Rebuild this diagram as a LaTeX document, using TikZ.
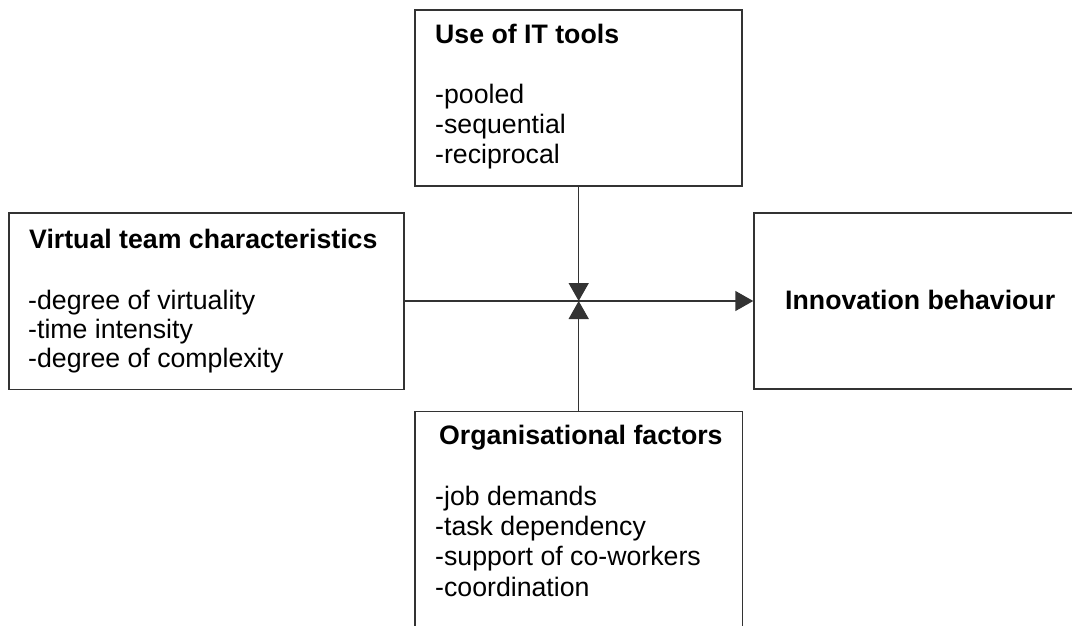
\documentclass[tikz,border=0pt]{standalone}
\usepackage{fontspec}
\setmainfont{Liberation Sans}
\usetikzlibrary{arrows.meta}
\begin{document}
\begin{tikzpicture}[x=1pt,y=-1pt,
  box/.style={draw=black!80, line width=1.5pt, rectangle, inner sep=0pt},
  txt/.style={anchor=base west, inner sep=0pt, font=\fontsize{26.7}{29}\selectfont},
  ttl/.style={txt, font=\fontsize{26.7}{29}\selectfont\bfseries},
  conn/.style={draw=black!80, line width=1.5pt},
  arr/.style={conn, -{Triangle[length=18pt,width=20pt]}}]
\useasboundingbox (0,0) rectangle (1072,626);
\fill[white] (0,0) rectangle (1072,626);
\clip (0,0) rectangle (1072,626);
% boxes
\node[box, minimum width=327pt, minimum height=176pt] (top) at (578.7,98) {};
\node[box, minimum width=395pt, minimum height=176.5pt] (left) at (206.5,301) {};
\node[box, minimum width=340pt, minimum height=176pt] (right) at (924,301) {};
\node[box, minimum width=327.5pt, minimum height=240pt] (bottom) at (578.7,531.7) {};
% texts
\node[ttl] (t0) at (435,44) {Use of IT tools};
\node[txt] (t1) at (435,103) {-pooled};
\node[txt] (t2) at (435,133) {-sequential};
\node[txt] (t3) at (435,163) {-reciprocal};
\node[ttl] (l0) at (29,248) {Virtual team characteristics};
\node[txt] (l1) at (28,309) {-degree of virtuality};
\node[txt] (l2) at (28,338) {-time intensity};
\node[txt] (l3) at (28,367) {-degree of complexity};
\node[ttl] (r0) at (785,309) {Innovation behaviour};
\node[ttl] (b0) at (439,444) {Organisational factors};
\node[txt] (b1) at (435,505) {-job demands};
\node[txt] (b2) at (435,535) {-task dependency};
\node[txt] (b3) at (435,565) {-support of co-workers};
\node[txt] (b4) at (435,596) {-coordination};
% connectors
\coordinate (mid) at (top.south |- left.east);
\draw[arr] (left.east) -- (right.west);
\draw[arr] (top.south) -- (mid);
\draw[arr] (bottom.north) -- (mid);
\end{tikzpicture}
\end{document}
